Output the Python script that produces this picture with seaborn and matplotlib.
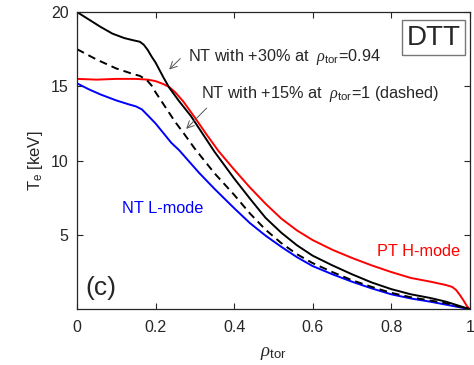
import numpy as np
import matplotlib
matplotlib.use('Agg')
import matplotlib.pyplot as plt
import pandas as pd
import seaborn as sns

# Te profiles (rho_tor, keV)
rho_nt30 = [0.0, 0.03, 0.06, 0.09, 0.12, 0.14, 0.16, 0.17, 0.18, 0.19, 0.20, 0.21, 0.22, 0.235,
            0.26, 0.29, 0.32, 0.35, 0.40, 0.44, 0.48, 0.52, 0.56, 0.60, 0.65, 0.70, 0.75, 0.80,
            0.85, 0.90, 0.94, 0.97, 1.0]
te_nt30 = [20.0, 19.5, 19.0, 18.55, 18.25, 18.12, 18.0, 17.8, 17.45, 17.0, 16.6, 16.1, 15.6, 14.9,
           14.0, 13.0, 11.8, 10.6, 8.8, 7.45, 6.15, 5.15, 4.3, 3.6, 2.95, 2.35, 1.8, 1.35,
           1.0, 0.75, 0.5, 0.25, 0.0]

rho_nt15 = [0.0, 0.05, 0.10, 0.14, 0.16, 0.17, 0.18, 0.19, 0.20, 0.22, 0.25, 0.27, 0.30, 0.35,
            0.40, 0.44, 0.48, 0.52, 0.56, 0.60, 0.65, 0.70, 0.75, 0.80, 0.85, 0.90, 0.94, 0.97, 1.0]
te_nt15 = [17.5, 16.8, 16.2, 15.85, 15.7, 15.55, 15.35, 15.05, 14.6, 13.8, 12.6, 11.9, 10.8, 9.15,
           7.7, 6.45, 5.35, 4.45, 3.7, 3.1, 2.5, 1.95, 1.5, 1.1, 0.8, 0.58, 0.4, 0.2, 0.0]

rho_pt = [0.0, 0.05, 0.10, 0.15, 0.18, 0.20, 0.22, 0.235, 0.25, 0.27, 0.30, 0.33, 0.36, 0.40,
          0.44, 0.48, 0.52, 0.56, 0.60, 0.65, 0.70, 0.75, 0.80, 0.85, 0.90, 0.94, 0.955, 0.965,
          0.975, 0.985, 0.993, 1.0]
te_pt = [15.5, 15.45, 15.5, 15.5, 15.45, 15.35, 15.15, 14.95, 14.6, 14.0, 12.9, 11.75, 10.65, 9.4,
         8.2, 7.1, 6.1, 5.3, 4.65, 4.0, 3.45, 2.95, 2.5, 2.1, 1.85, 1.62, 1.5, 1.3,
         0.95, 0.55, 0.2, 0.0]

rho_lmode = [0.0, 0.03, 0.06, 0.10, 0.13, 0.15, 0.165, 0.18, 0.20, 0.24, 0.26, 0.28, 0.31, 0.35,
             0.40, 0.44, 0.48, 0.52, 0.56, 0.60, 0.65, 0.70, 0.75, 0.80, 0.85, 0.90, 0.94, 0.97, 1.0]
te_lmode = [15.2, 14.8, 14.45, 14.05, 13.8, 13.65, 13.45, 13.05, 12.5, 11.2, 10.7, 10.1, 9.2, 8.1,
            6.8, 5.8, 4.95, 4.2, 3.5, 2.9, 2.35, 1.85, 1.4, 1.0, 0.72, 0.5, 0.3, 0.15, 0.0]

xticks = [0, 0.2, 0.4, 0.6, 0.8, 1]
xticklabels = ['0', '0.2', '0.4', '0.6', '0.8', '1']
yticks = [5, 10, 15, 20]

sns.set_style('ticks')
plt.rcParams['font.family'] = ['Liberation Sans', 'DejaVu Sans']
plt.rcParams['mathtext.fontset'] = 'custom'
plt.rcParams['mathtext.rm'] = 'Liberation Sans'
plt.rcParams['mathtext.sf'] = 'Liberation Sans'
plt.rcParams['mathtext.it'] = 'Liberation Serif:italic'

fig = plt.figure(figsize=(4.74, 3.65), dpi=100)
ax = fig.add_axes([0.1625, 0.153, 0.8285, 0.814])

lw = 1.4
sns.lineplot(x=rho_pt, y=te_pt, color='#ff0000', lw=lw, sort=False, estimator=None, ax=ax)
sns.lineplot(x=rho_lmode, y=te_lmode, color='#0000ff', lw=lw, sort=False, estimator=None, ax=ax)
sns.lineplot(x=rho_nt15, y=te_nt15, color='black', lw=lw, sort=False, estimator=None, ax=ax)
ax.lines[-1].set_linestyle((0, (4, 2.6)))
sns.lineplot(x=rho_nt30, y=te_nt30, color='black', lw=lw, sort=False, estimator=None, ax=ax)

ax.set_xlim(0, 1)
ax.set_ylim(0, 20)
ax.set_xticks(xticks)
ax.set_xticklabels(xticklabels)
ax.set_yticks(yticks)
ax.tick_params(direction='in', length=4, width=0.8, labelsize=11.5, top=True, right=True,
               colors='#262626')
ax.tick_params(axis='x', pad=8)
ax.tick_params(axis='y', pad=6)
for s in ax.spines.values():
    s.set_linewidth(0.9)
    s.set_color('#262626')

ax.set_xlabel(r'$\rho_{\mathrm{tor}}$', fontsize=13.5, labelpad=7)
ax.set_ylabel(r'T$_{\mathrm{e}}$ [keV]', fontsize=12, labelpad=4)

fs = 11.7
arrow = dict(arrowstyle='->,head_length=0.5,head_width=0.25', color='#555555', lw=0.7)
ax.text(0.2835, 16.7, r'NT with +30% at  $\rho_{\mathrm{tor}}$=0.94', fontsize=fs, va='baseline')
ax.annotate('', xy=(0.2296, 16.0), xytext=(0.268, 17.0), arrowprops=arrow)
ax.text(0.316, 14.2, r'NT with +15% at  $\rho_{\mathrm{tor}}$=1 (dashed)', fontsize=fs, va='baseline')
ax.annotate('', xy=(0.273, 12.0), xytext=(0.335, 13.67), arrowprops=arrow)
ax.text(0.115, 6.44, 'NT L-mode', fontsize=fs, color='#0000ff', va='baseline')
ax.text(0.765, 3.57, 'PT H-mode', fontsize=fs, color='#ff0000', va='baseline')
ax.text(0.02, 1.45, '(c)', fontsize=19, va='center')
ax.text(0.9075, 18.28, 'DTT', fontsize=20, ha='center', va='center',
        bbox=dict(boxstyle='square,pad=0.15', fc='white', ec='#777777', lw=1.0))

fig.savefig('out.png', dpi=100)
